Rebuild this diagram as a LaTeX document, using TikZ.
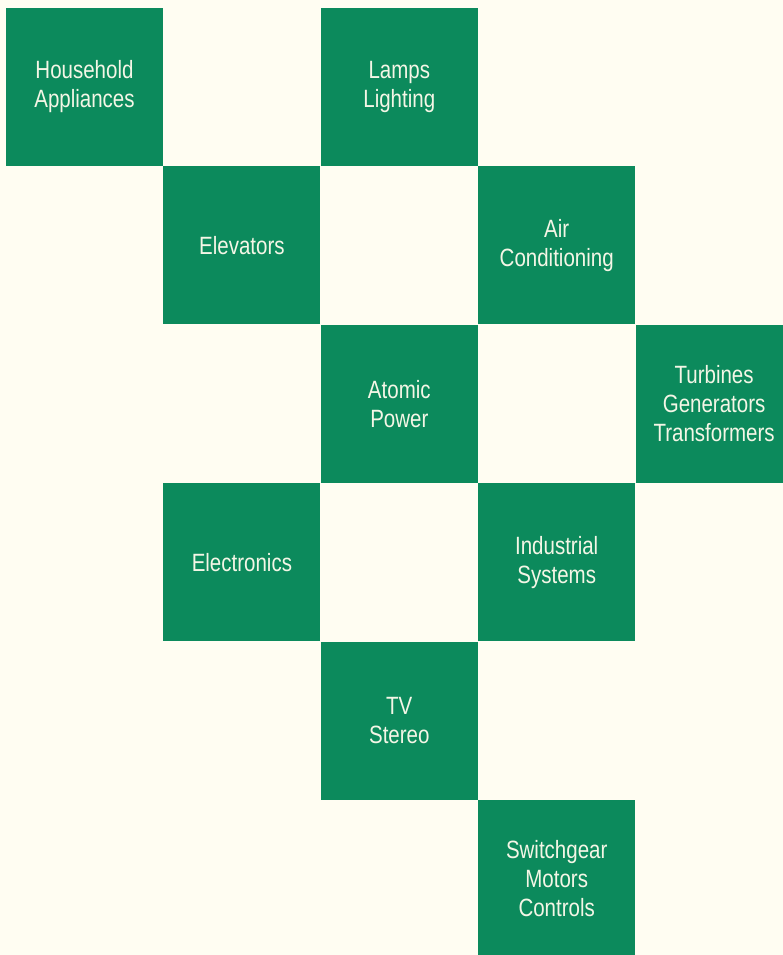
\documentclass[tikz,border=0pt]{standalone}
\usepackage{fontspec}
\newfontfamily\tilefont{Liberation Sans}[FakeStretch=0.82]
\usepackage{tikz}
\usetikzlibrary{positioning}

\definecolor{tilegreen}{HTML}{0C8A5C}
\definecolor{paper}{HTML}{FFFDF2}
\definecolor{tiletext}{HTML}{F4F6E6}

\begin{document}
\begin{tikzpicture}[
    x=1pt, y=-1pt,
    node distance=0pt,
    tile/.style={rectangle, fill=tilegreen, minimum width=157pt, minimum height=158pt, inner sep=0pt, align=center, text=tiletext, font=\tilefont\fontsize{25}{29}\selectfont}
]

% Page
\fill[paper] (0,0) rectangle (783,955);
\useasboundingbox (0,0) rectangle (783,955);
\clip (0,0) rectangle (783,955);

% Top rows
\node[tile] (household) at (84.5,87) {Household\\Appliances};
\node[tile, below right=of household] (elevators) {Elevators};
\node[tile, above right=of elevators] (lamps) {Lamps\\Lighting};
\node[tile, below right=of lamps] (aircon) {Air\\Conditioning};

% Middle rows
\node[tile, below left=of aircon] (atomic) {Atomic\\Power};
\node[tile, below right=of aircon] (turbines) {Turbines\\Generators\\Transformers};
\node[tile, below left=of atomic] (electronics) {Electronics};
\node[tile, below right=of atomic] (industrial) {Industrial\\Systems};

% Bottom rows
\node[tile, below left=of industrial] (tv) {TV\\Stereo};
\node[tile, below right=of tv] (switchgear) {Switchgear\\Motors\\Controls};

\end{tikzpicture}
\end{document}
